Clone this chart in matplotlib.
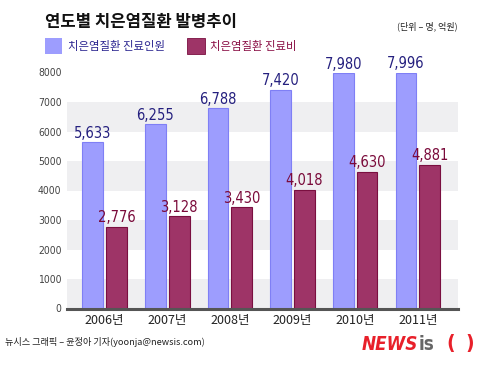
import numpy as np
import matplotlib.pyplot as plt

years = ['2006년', '2007년', '2008년', '2009년', '2010년', '2011년']
patients = [5633, 6255, 6788, 7420, 7980, 7996]
costs = [2776, 3128, 3430, 4018, 4630, 4881]
yticks = [0, 1000, 2000, 3000, 4000, 5000, 6000, 7000, 8000]

narrow = ['DejaVu Sans', 'Noto Sans CJK KR']
kr = ['Noto Sans CJK KR', 'DejaVu Sans']

W, H = 500, 377
fig = plt.figure(figsize=(5, 3.77), dpi=100)
fig.patch.set_facecolor('white')

def fx(px):
    return px / W

def fy(py):
    return 1 - py / H

ax = fig.add_axes([fx(67), fy(308.5), fx(458 - 67), (308.5 - 72.5) / H])
ax.set_xlim(-0.6, 5.64)
ax.set_ylim(0, 8000)

# gray bands
for lo in [0, 2000, 4000, 6000]:
    ax.axhspan(lo, lo + 1000, color='#efeff1', lw=0, zorder=0)

x = np.arange(len(years))
w = 0.33
off = 0.19
ax.bar(x - off, patients, w, color='#9d9dfe', edgecolor='#7f7ff5', lw=0.8, zorder=2)
ax.bar(x + off, costs, w, color='#9e3467', edgecolor='#7a0f40', lw=0.8, zorder=2)

for i in range(len(years)):
    ax.text(x[i] - off, patients[i] + 50, f'{patients[i]:,}', ha='center', va='bottom',
            fontsize=10.5, color='#25207f', family=narrow, fontstretch='condensed', clip_on=False)
    ax.text(x[i] + off, costs[i] + 50, f'{costs[i]:,}', ha='center', va='bottom',
            fontsize=10.5, color='#7a0a3a', family=narrow, fontstretch='condensed', clip_on=False)

for s in ax.spines.values():
    s.set_visible(False)
ax.axhline(0, color='#555555', lw=2.2, zorder=3, clip_on=False)

ax.set_yticks(yticks)
ax.set_yticklabels([str(v) for v in yticks], family=narrow, fontstretch='condensed',
                   fontsize=7.5, color='#444444')
ax.set_xticks(x)
ax.set_xticklabels(years, family=kr, fontsize=9, color='#222222')
ax.tick_params(axis='both', length=0)
ax.tick_params(axis='y', pad=4)
ax.tick_params(axis='x', pad=4)

# title and notes
fig.text(fx(45), fy(22), '연도별 치은염질환 발병추이', family=kr, fontsize=12,
         fontweight='bold', color='#111111', va='center', ha='left')
fig.text(fx(458), fy(26), '(단위 – 명, 억원)', family=kr, fontsize=6.5,
         color='#222222', va='center', ha='right')

# legend
fig.patches.append(plt.Rectangle((fx(45), fy(54)), fx(17), 16 / H, transform=fig.transFigure,
                                 facecolor='#9d9dfe', edgecolor='none'))
fig.text(fx(68), fy(46), '치은염질환 진료인원', family=kr, fontsize=8.2,
         color='#2b2590', va='center', ha='left')
fig.patches.append(plt.Rectangle((fx(187), fy(54)), fx(18), 16 / H, transform=fig.transFigure,
                                 facecolor='#9e3467', edgecolor='#7a0f40', lw=0.6))
fig.text(fx(210), fy(46), '치은염질환 진료비', family=kr, fontsize=8.2,
         color='#8a0f45', va='center', ha='left')

# footer
fig.text(fx(5), fy(342), '뉴시스 그래픽 – 윤정아 기자(yoonja@newsis.com)', family=kr,
         fontsize=6.6, color='#222222', va='center', ha='left')

# logo
fig.text(fx(418), fy(344), 'NEWS', family='DejaVu Sans', fontstretch='condensed',
         fontsize=13.5, fontweight='heavy', style='italic',
         color='#e8202a', va='center', ha='right')
fig.text(fx(419), fy(344), 'is', family='DejaVu Sans', fontstretch='condensed',
         fontsize=13.5, fontweight='heavy', color='#666666', va='center', ha='left')
fig.text(fx(446), fy(344), '(', family='DejaVu Sans', fontsize=13.5, fontweight='bold',
         color='#e8202a', va='center', ha='left')
fig.text(fx(465), fy(344), ')', family='DejaVu Sans', fontsize=13.5, fontweight='bold',
         color='#e8202a', va='center', ha='left')

fig.savefig('out.png', dpi=100)
